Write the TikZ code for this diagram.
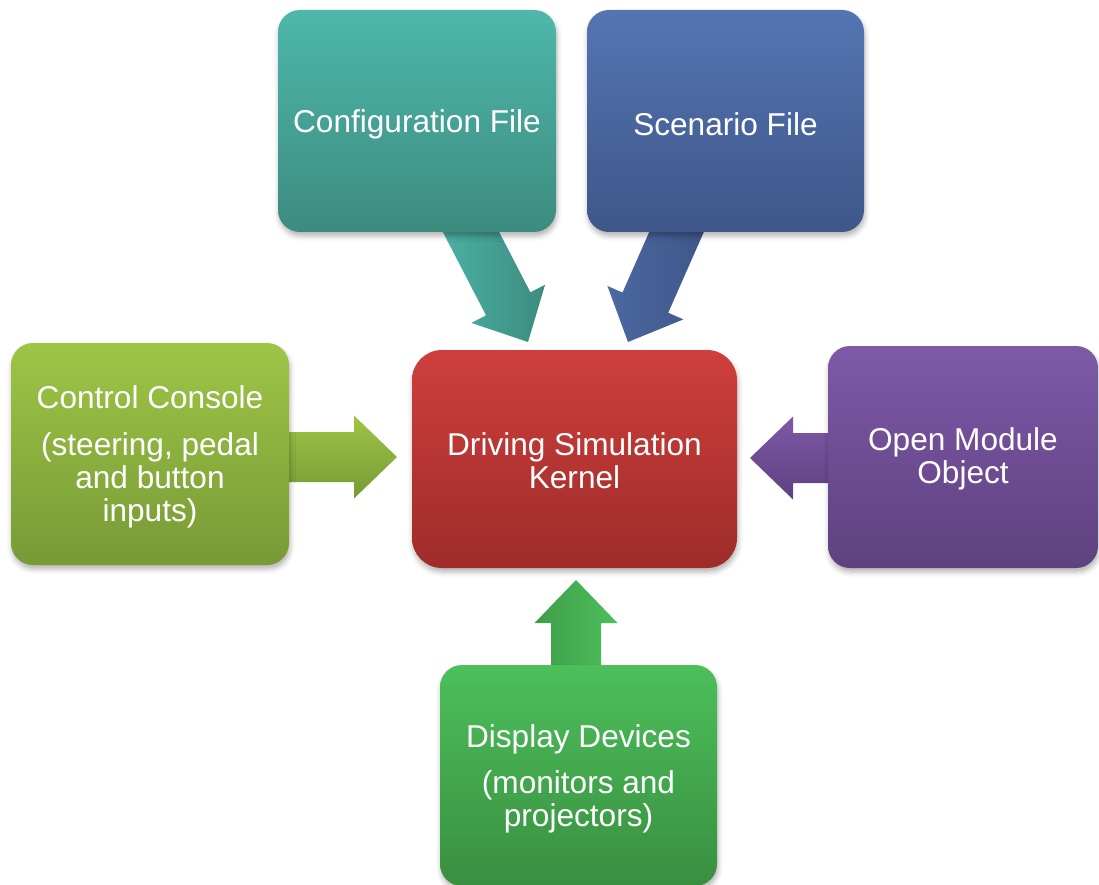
\documentclass[tikz,border=0pt]{standalone}
\usepackage{fontspec}
\setmainfont{Liberation Sans}
\usetikzlibrary{shadows.blur}
\definecolor{cfgT}{RGB}{78,183,171}
\definecolor{cfgB}{RGB}{61,139,127}
\definecolor{scnT}{RGB}{84,117,178}
\definecolor{scnB}{RGB}{63,86,137}
\definecolor{ctlT}{RGB}{158,197,70}
\definecolor{ctlB}{RGB}{119,154,54}
\definecolor{kerT}{RGB}{206,63,60}
\definecolor{kerB}{RGB}{158,44,41}
\definecolor{opnT}{RGB}{126,89,168}
\definecolor{opnB}{RGB}{95,65,127}
\definecolor{dspT}{RGB}{76,191,91}
\definecolor{dspB}{RGB}{57,143,64}
\tikzset{
  box/.style={rounded corners=22pt, inner sep=0pt,
    blur shadow={shadow xshift=1pt, shadow yshift=-4pt, shadow blur radius=5pt, shadow opacity=30}},
  boxtext/.style={align=center, text=white, inner sep=0pt, yshift=-3pt,
    font=\fontsize{31.6}{33}\selectfont},
}
\newcommand{\blockarr}[4]{% tip, angle, length, colors
  \begin{scope}[shift={#1}, rotate=#2]
    \shade[#4] (0,0) -- (-43,41.5) -- (-43,25) -- (-#3,25) -- (-#3,-25) -- (-43,-25) -- (-43,-41.5) -- cycle;
  \end{scope}}
\begin{document}
\begin{tikzpicture}[x=1pt,y=-1pt]
\useasboundingbox (0,0) rectangle (1099,885);
\coordinate (cfgtip) at (528,342);
\coordinate (scntip) at (628,342);
\coordinate (ctltip) at (397,457);
\coordinate (opntip) at (750,458);
\coordinate (dsptip) at (576,580);
% arrows first (under boxes)
\blockarr{(cfgtip)}{-62.6}{140}{left color=cfgT!85!cfgB, right color=cfgB}
\blockarr{(scntip)}{-113.8}{136}{left color=scnT!60!scnB, right color=scnB}
\blockarr{(ctltip)}{0}{123}{top color=ctlT, bottom color=ctlB}
\blockarr{(opntip)}{180}{93}{top color=opnT, bottom color=opnB}
\blockarr{(dsptip)}{90}{100}{left color=dspB!70!dspT, right color=dspT}
% boxes
\node[box, minimum width=278pt, minimum height=222pt, top color=cfgT, bottom color=cfgB,
  label={[boxtext]center:{Configuration File}}] (cfg) at (417,121) {};
\node[box, minimum width=277pt, minimum height=222pt, top color=scnT, bottom color=scnB,
  label={[boxtext]center:{Scenario File}}] (scn) at (725.5,121) {};
\node[box, minimum width=278pt, minimum height=222pt, top color=ctlT, bottom color=ctlB,
  label={[boxtext]center:{Control Console\\[14pt](steering, pedal\\and button\\inputs)}}] (ctl) at (150,454) {};
\node[box, rounded corners=30pt, minimum width=325pt, minimum height=218pt, top color=kerT, bottom color=kerB,
  label={[boxtext, yshift=1pt]center:{Driving Simulation\\Kernel}}] (ker) at (574.5,459) {};
\node[box, minimum width=270pt, minimum height=222pt, top color=opnT, bottom color=opnB,
  label={[boxtext, yshift=1pt]center:{Open Module\\Object}}] (opn) at (963,457) {};
\node[box, minimum width=277pt, minimum height=221pt, top color=dspT, bottom color=dspB,
  label={[boxtext]center:{Display Devices\\[13pt](monitors and\\projectors)}}] (dsp) at (578.5,775.5) {};
\end{tikzpicture}
\end{document}
